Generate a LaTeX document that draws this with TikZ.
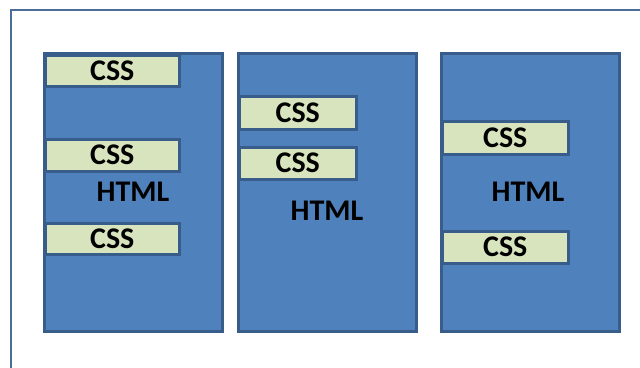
\documentclass[tikz,border=0pt]{standalone}
\usepackage{fontspec}
\setmainfont{Carlito}
\definecolor{boxblue}{HTML}{4F81BD}
\definecolor{edgeblue}{HTML}{385D8A}
\definecolor{cssgreen}{HTML}{D7E4BD}
\begin{document}
\begin{tikzpicture}[x=1pt,y=-1pt,
  page/.style={draw=edgeblue,line width=2.5pt,fill=boxblue},
  cssbox/.style={draw=edgeblue,line width=2.5pt,fill=cssgreen,anchor=north west,inner sep=0pt,font=\fontsize{30}{30}\selectfont\bfseries},
  label/.style={font=\fontsize{30}{30}\selectfont\bfseries}]
\useasboundingbox (0,0) rectangle (640,367);
\coordinate (fa) at (11,368);
\coordinate (fb) at (11,10);
\coordinate (fc) at (641,10);
\draw[edgeblue!90!white,line width=2.2pt] (fa) -- (fb) -- (fc);
% pages
\node[page,minimum width=178pt,minimum height=278pt,anchor=north west,inner sep=0pt] (p1) at (43,52) {};
\node[page,minimum width=178pt,minimum height=278pt,anchor=north west,inner sep=0pt] (p2) at (237,52) {};
\node[page,minimum width=178pt,minimum height=278pt,anchor=north west,inner sep=0pt] (p3) at (440,52) {};
% box 1
\node[cssbox,minimum width=134pt,minimum height=31pt] (c11) at (44,54) {CSS};
\node[cssbox,minimum width=134pt,minimum height=32pt] (c12) at (44,138) {CSS};
\node[cssbox,minimum width=134pt,minimum height=31pt] (c13) at (44,222) {CSS};
\node[label] (h1) at (133,192) {HTML};
% box 2
\node[cssbox,minimum width=117pt,minimum height=33pt] (c21) at (238,95) {CSS};
\node[cssbox,minimum width=117pt,minimum height=32pt] (c22) at (238,146) {CSS};
\node[label] (h2) at (327,211) {HTML};
% box 3
\node[cssbox,minimum width=126pt,minimum height=33pt] (c31) at (441,120) {CSS};
\node[cssbox,minimum width=126pt,minimum height=32pt] (c32) at (441,230) {CSS};
\node[label] (h3) at (528,192) {HTML};
\end{tikzpicture}
\end{document}
